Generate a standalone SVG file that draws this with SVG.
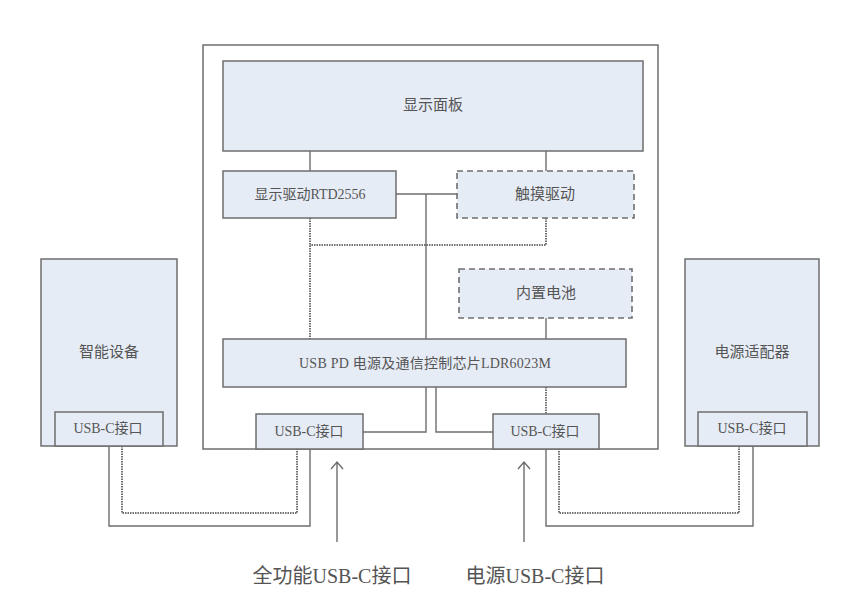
<svg xmlns="http://www.w3.org/2000/svg" width="865" height="598" viewBox="0 0 865 598">
<style>
.box{fill:#e6ecf6;stroke:#6e6e6e;stroke-width:1.5}
.dash{fill:#e6ecf6;stroke:#6e6e6e;stroke-width:1.6;stroke-dasharray:6 4}
.frame{fill:#ffffff;stroke:#6e6e6e;stroke-width:1.5}
.ln{fill:none;stroke:#6e6e6e;stroke-width:1.4}
.dot{fill:none;stroke:#444;stroke-width:1.5;stroke-dasharray:1.5 1}
.t{font-family:"Liberation Serif","Noto Sans CJK SC",serif;font-size:14px;fill:#555;text-anchor:middle;dominant-baseline:central}
.m{font-size:15px}
.big{font-family:"Liberation Serif","Noto Sans CJK SC",serif;font-size:20px;fill:#555;text-anchor:middle}
</style>
<rect width="865" height="598" fill="#ffffff"/>
<g id="frame"><rect class="frame" x="203" y="45" width="455" height="404"/></g>
<g id="connectors">
<path class="ln" d="M310 151V171M546 151V171M396 194H457M426 194V339M546 318V339"/>
<path class="dot" d="M310 218V339M546 218V245H310"/>
<path class="ln" d="M426 387V432H363M436 387V432H493"/>
<path class="dot" d="M546 387V414"/>
<path class="ln" d="M109 446V526H310V449"/>
<path class="dot" d="M122 446V513H297V449"/>
<path class="ln" d="M753 446V526H546V449"/>
<path class="dot" d="M739 446V513H559V449"/>
<path class="ln" d="M337 542V462M331 469L337 462L343 469"/>
<path class="ln" d="M524 542V462M518 469L524 462L530 469"/>
</g>
<g id="panel"><rect class="box" x="223" y="61" width="420" height="90"/><text class="t m" x="433" y="105">显示面板</text></g>
<g id="driver"><rect class="box" x="223" y="171" width="173" height="47"/><text class="t" x="310" y="194">显示驱动RTD2556</text></g>
<g id="touch"><rect class="dash" x="457" y="171" width="177" height="47"/><text class="t m" x="545" y="194">触摸驱动</text></g>
<g id="battery"><rect class="dash" x="459" y="269" width="173" height="49"/><text class="t m" x="546" y="293">内置电池</text></g>
<g id="chip"><rect class="box" x="223" y="339" width="403" height="48"/><text class="t" x="425" y="363" textLength="252" lengthAdjust="spacing">USB PD 电源及通信控制芯片LDR6023M</text></g>
<g id="usb-left"><rect class="box" x="256" y="414" width="107" height="35"/><text class="t" x="309" y="431">USB-C接口</text></g>
<g id="usb-right"><rect class="box" x="493" y="414" width="106" height="35"/><text class="t" x="545" y="431">USB-C接口</text></g>
<g id="device"><rect class="box" x="41" y="259" width="136" height="187"/><text class="t m" x="109" y="352">智能设备</text><rect class="box" x="55" y="412" width="108" height="34"/><text class="t" x="108" y="428">USB-C接口</text></g>
<g id="adapter"><rect class="box" x="685" y="259" width="134" height="187"/><text class="t m" x="752" y="352">电源适配器</text><rect class="box" x="698" y="412" width="109" height="34"/><text class="t" x="752" y="428">USB-C接口</text></g>
<g id="labels"><text class="big" x="332" y="583">全功能USB-C接口</text><text class="big" x="535" y="583">电源USB-C接口</text></g>
</svg>
